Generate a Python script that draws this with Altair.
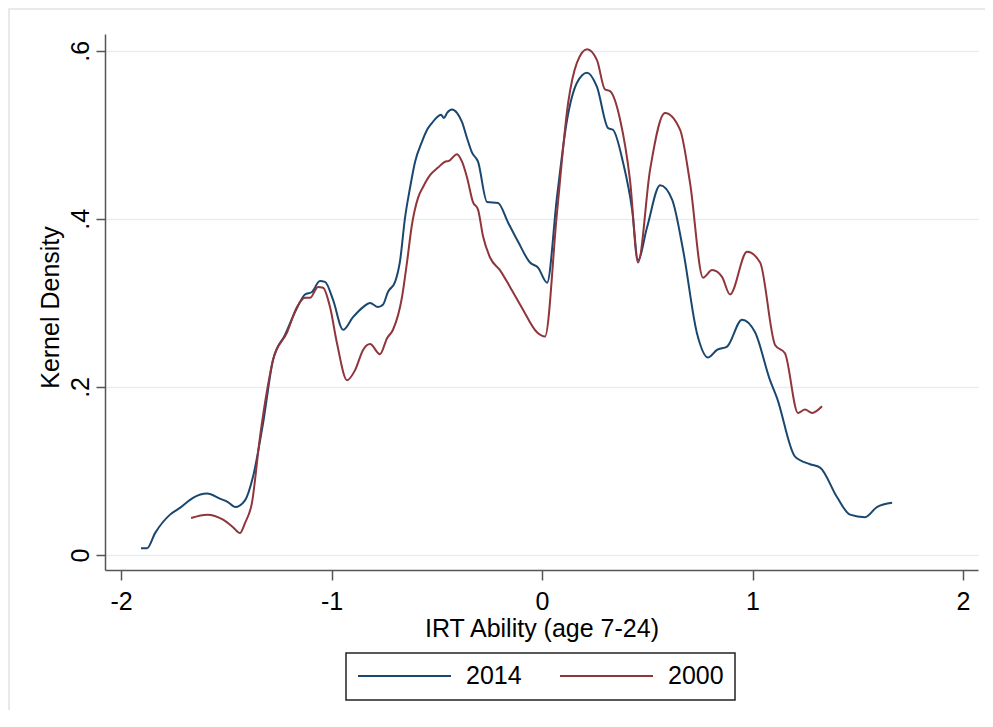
import altair as alt
import pandas as pd

# ---- data ----
x_2014 = [-1.905, -1.876, -1.838, -1.767, -1.720, -1.658, -1.591, -1.530, -1.492, -1.458,
          -1.411, -1.373, -1.325, -1.278, -1.221, -1.164, -1.126, -1.093, -1.055, -1.031,
          -0.993, -0.945, -0.898, -0.850, -0.817, -0.779, -0.755, -0.732, -0.698, -0.675,
          -0.651, -0.627, -0.603, -0.570, -0.546, -0.523, -0.499, -0.480, -0.466, -0.451,
          -0.428, -0.404, -0.380, -0.356, -0.333, -0.304, -0.261, -0.209, -0.162, -0.114,
          -0.057, -0.019, 0.024, 0.071, 0.119, 0.166, 0.214, 0.261, 0.314, 0.337,
          0.385, 0.428, 0.456, 0.499, 0.561, 0.618, 0.670, 0.736, 0.789, 0.831,
          0.879, 0.950, 1.012, 1.083, 1.116, 1.202, 1.273, 1.321, 1.401, 1.463,
          1.534, 1.591, 1.663]
y_2014 = [0.008, 0.008, 0.026, 0.048, 0.056, 0.068, 0.073, 0.067, 0.063, 0.057,
          0.065, 0.093, 0.157, 0.232, 0.262, 0.294, 0.310, 0.313, 0.326, 0.325,
          0.304, 0.268, 0.283, 0.295, 0.300, 0.295, 0.298, 0.313, 0.325, 0.349,
          0.401, 0.437, 0.468, 0.492, 0.506, 0.514, 0.521, 0.524, 0.520, 0.526,
          0.530, 0.526, 0.515, 0.496, 0.479, 0.468, 0.420, 0.419, 0.396, 0.373,
          0.348, 0.342, 0.324, 0.426, 0.518, 0.562, 0.574, 0.557, 0.508, 0.506,
          0.467, 0.411, 0.351, 0.390, 0.440, 0.423, 0.363, 0.264, 0.235, 0.244,
          0.248, 0.280, 0.265, 0.208, 0.187, 0.117, 0.108, 0.104, 0.069, 0.048,
          0.045, 0.057, 0.062]

x_2000 = [-1.667, -1.591, -1.515, -1.468, -1.435, -1.411, -1.378, -1.340, -1.306, -1.278,
          -1.211, -1.164, -1.126, -1.102, -1.064, -1.040, -1.007, -0.974, -0.926, -0.888,
          -0.850, -0.817, -0.770, -0.736, -0.708, -0.665, -0.641, -0.618, -0.589, -0.565,
          -0.532, -0.494, -0.461, -0.442, -0.404, -0.380, -0.356, -0.328, -0.304, -0.280,
          -0.247, -0.200, -0.152, -0.095, -0.024, 0.014, 0.071, 0.124, 0.166, 0.214,
          0.261, 0.299, 0.323, 0.371, 0.418, 0.456, 0.513, 0.584, 0.656, 0.703,
          0.765, 0.808, 0.855, 0.893, 0.974, 1.036, 1.107, 1.154, 1.216, 1.249,
          1.283, 1.330]
y_2000 = [0.044, 0.048, 0.042, 0.033, 0.026, 0.038, 0.062, 0.140, 0.196, 0.232,
          0.265, 0.295, 0.306, 0.306, 0.319, 0.318, 0.295, 0.252, 0.208, 0.220,
          0.244, 0.251, 0.239, 0.258, 0.268, 0.307, 0.349, 0.393, 0.425, 0.438,
          0.452, 0.461, 0.468, 0.469, 0.477, 0.468, 0.449, 0.420, 0.411, 0.379,
          0.354, 0.339, 0.319, 0.294, 0.265, 0.260, 0.407, 0.538, 0.586, 0.602,
          0.589, 0.554, 0.552, 0.518, 0.446, 0.348, 0.458, 0.526, 0.506, 0.443,
          0.330, 0.339, 0.331, 0.310, 0.361, 0.348, 0.250, 0.240, 0.169, 0.173,
          0.169, 0.177]

series = ["2014", "2000"]
colors = ["#1a476f", "#90353b"]
x_ticks = [-2, -1, 0, 1, 2]
y_ticks = [0, 0.2, 0.4, 0.6]

df = pd.concat([
    pd.DataFrame({"x": x_2014, "y": y_2014, "series": "2014"}),
    pd.DataFrame({"x": x_2000, "y": y_2000, "series": "2000"}),
], ignore_index=True)

FONT = "Liberation Sans, Arial, Helvetica, sans-serif"
AXIS_COLOR = "#555555"
FS = 25

lines = alt.Chart(df).mark_line(strokeWidth=2, interpolate="monotone").encode(
    x=alt.X("x:Q",
            scale=alt.Scale(domain=[-2.076, 2.071], nice=False, zero=False),
            axis=alt.Axis(values=x_ticks, grid=False, tickSize=10,
                          labelExpr="datum.value + ''",
                          labelPadding=9, labelFontSize=FS, labelColor="black",
                          title="IRT Ability (age 7-24)", titleFontSize=FS,
                          titleFontWeight="normal", titleColor="black",
                          titleBaseline="alphabetic", titleY=66)),
    y=alt.Y("y:Q",
            scale=alt.Scale(domain=[-0.0179, 0.620], nice=False, zero=False),
            axis=alt.Axis(values=y_ticks, grid=True, gridColor="#e6eef1", gridWidth=1.5,
                          tickSize=9, labelAngle=270, labelAlign="center",
                          labelBaseline="bottom", labelPadding=3, labelFontSize=FS,
                          labelColor="black",
                          labelExpr="datum.value == 0 ? '0' : replace(format(datum.value, '.1f'), '0.', '.')",
                          title="Kernel Density", titleFontSize=FS,
                          titleFontWeight="normal", titleColor="black",
                          titleBaseline="alphabetic", titleAngle=270,
                          titleX=-47, titleY=273)),
    color=alt.Color("series:N",
                    scale=alt.Scale(domain=series, range=colors),
                    legend=alt.Legend(title=None, orient="none", legendX=241, legendY=619,
                                      direction="horizontal", symbolType="stroke",
                                      symbolSize=8649, symbolStrokeWidth=2, clipHeight=24,
                                      labelFontSize=FS, labelColor="black", labelOffset=14,
                                      columnPadding=37, padding=11,
                                      strokeColor="#222222")),
)

frame = alt.Chart(pd.DataFrame({"a": [0]}))
top_border = frame.mark_rule(color="#e4eaee", strokeWidth=2).encode(
    x=alt.value(-97), x2=alt.value(900), y=alt.value(-25))
left_border = frame.mark_rule(color="#e4eaee", strokeWidth=2).encode(
    x=alt.value(-96), y=alt.value(-25), y2=alt.value(720))

chart = alt.layer(top_border, left_border, lines).properties(
    width=873, height=536,
    autosize=alt.AutoSizeParams(type="none"),
    padding={"left": 97, "top": 26, "right": 7, "bottom": 140},
).configure(font=FONT, background="white").configure_view(
    strokeWidth=0
).configure_axis(
    domainColor=AXIS_COLOR, domainWidth=1.5, tickColor=AXIS_COLOR, tickWidth=1.5
).configure_legend(
    strokeWidth=1.5
)

chart.save("out.html", embed_options={"renderer": "svg", "actions": False})
